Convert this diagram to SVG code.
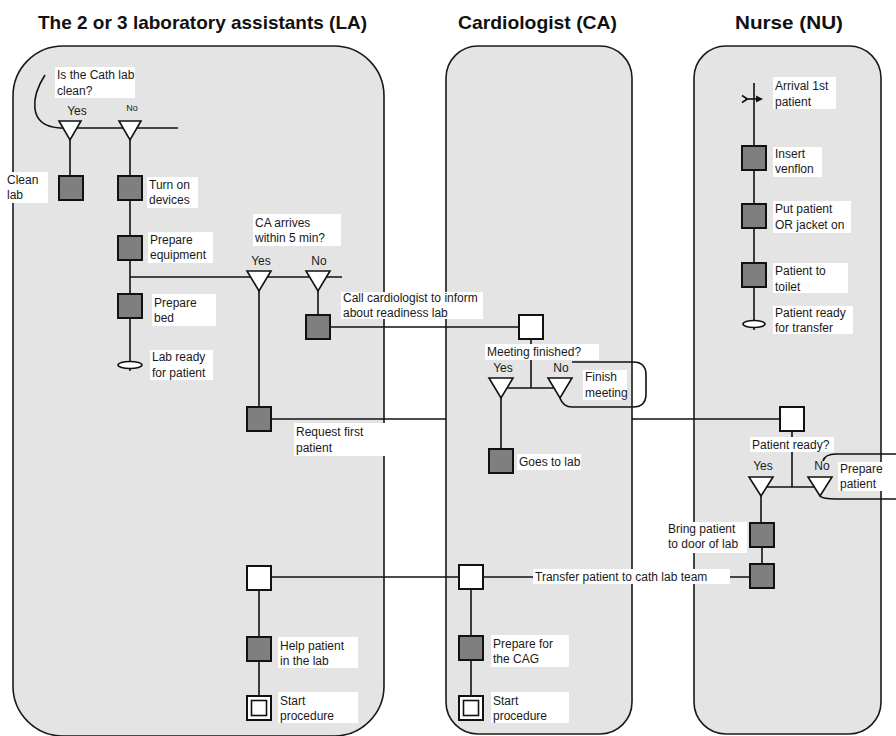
<svg xmlns="http://www.w3.org/2000/svg" width="896" height="736" viewBox="0 0 896 736">
  <defs>
    <style>
      .lane { fill: #e4e4e4; stroke: #1a1a1a; stroke-width: 1.6; }
      .head { font-family: "Liberation Sans", Arial, sans-serif; font-weight: bold; font-size: 19px; fill: #111; }
      .wire { fill: none; stroke: #111; stroke-width: 1.6; }
      .task { fill: #7f7f7f; stroke: #111; stroke-width: 2; }
      .gate { fill: #fff; stroke: #111; stroke-width: 2; }
      .dec { fill: #fff; stroke: #111; stroke-width: 1.6; stroke-linejoin: miter; }
      .end { fill: #fff; stroke: #111; stroke-width: 1.6; }
      .lbl { fill: #fff; }
      .t { font-family: "Liberation Sans", Arial, sans-serif; font-size: 12px; fill: #1a1a1a; }
      .yn { font-family: "Liberation Sans", Arial, sans-serif; font-size: 12px; fill: #1a1a1a; text-anchor: middle; }
    </style>
  </defs>

  <!-- swimlane headers -->
  <g id="headers">
    <text class="head" x="38" y="29" textLength="329" lengthAdjust="spacingAndGlyphs">The 2 or 3 laboratory assistants (LA)</text>
    <text class="head" x="458" y="29" textLength="159" lengthAdjust="spacingAndGlyphs">Cardiologist (CA)</text>
    <text class="head" x="735" y="29" textLength="108" lengthAdjust="spacingAndGlyphs">Nurse (NU)</text>
  </g>

  <!-- swimlanes -->
  <g id="lanes">
    <rect id="lane-la" class="lane" x="13" y="46" width="371" height="690" rx="50" ry="50"/>
    <rect id="lane-ca" class="lane" x="446" y="46" width="186" height="688" rx="32" ry="32"/>
    <rect id="lane-nu" class="lane" x="694" y="46" width="187" height="688" rx="32" ry="32"/>
  </g>

  <!-- connectors -->
  <g id="connectors" class="wire">
    <!-- LA: is the lab clean -->
    <path d="M45,75 C32,95 26,126 60,128 H178"/>
    <path d="M70,138 V176"/>
    <path d="M130,138 V371"/>
    <path d="M130,277 H342"/>
    <path d="M259,289 V407"/>
    <path d="M318,289 V315"/>
    <!-- call cardiologist -->
    <path d="M331,327 H519"/>
    <!-- request first patient (passes behind CA lane) -->
    <path d="M271,419 H446"/>
    <path d="M632,419 H780"/>
    <!-- CA: meeting finished -->
    <path d="M531,339 V388"/>
    <path d="M501,388 H560"/>
    <path d="M501,396 V449"/>
    <path d="M572,362 H633 Q646,362 646,375 V394 Q646,407 633,407 H572 Q563,407 560,398"/>
    <!-- NU: main line -->
    <path d="M754,83 V330"/>
    <path d="M745,99 H757"/>
    <path d="M742,95.5 L747.5,99 L742,102.5"/>
    <!-- NU: patient ready -->
    <path d="M792,431 V487"/>
    <path d="M761,487 H820"/>
    <path d="M761,494 V523"/>
    <path d="M762,547 V564"/>
    <path d="M823,461 Q825,454 836,454 H900"/>
    <path d="M820,496 Q823,499 836,499 H900"/>
    <!-- transfer to cath lab team -->
    <path d="M271,577 H458"/>
    <path d="M483,577 H750"/>
    <!-- bottom chains -->
    <path d="M259,590 V696"/>
    <path d="M471,589 V696"/>
  </g>
  <polygon points="756,95.5 763,99 756,102.5" fill="#111"/>

  <!-- LA nodes -->
  <g id="la-clean-yes"><polygon class="dec" points="59,121 81,121 70,140"/></g>
  <g id="la-clean-no"><polygon class="dec" points="119,121 141,121 130,140"/></g>
  <g id="la-clean-lab"><rect class="task" x="59" y="176" width="24" height="24"/></g>
  <g id="la-turn-on"><rect class="task" x="118" y="176" width="24" height="24"/></g>
  <g id="la-prep-equip"><rect class="task" x="118" y="236" width="24" height="24"/></g>
  <g id="la-prep-bed"><rect class="task" x="118" y="294" width="24" height="24"/></g>
  <g id="la-lab-ready"><ellipse class="end" cx="130" cy="365" rx="12" ry="3.5"/></g>
  <g id="la-ca-yes"><polygon class="dec" points="247,271 271,271 259,291"/></g>
  <g id="la-ca-no"><polygon class="dec" points="306,271 330,271 318,291"/></g>
  <g id="la-call-ca"><rect class="task" x="306" y="315" width="24" height="24"/></g>
  <g id="la-request"><rect class="task" x="247" y="407" width="24" height="24"/></g>
  <g id="la-sync"><rect class="gate" x="247" y="566" width="24" height="24"/></g>
  <g id="la-help"><rect class="task" x="247" y="637" width="24" height="24"/></g>
  <g id="la-start"><rect class="gate" x="247" y="696" width="24" height="24"/><rect class="end" x="251.5" y="700.5" width="15" height="15"/></g>

  <!-- CA nodes -->
  <g id="ca-call-in"><rect class="gate" x="519" y="315" width="24" height="24"/></g>
  <g id="ca-meet-yes"><polygon class="dec" points="489,378 513,378 501,398"/></g>
  <g id="ca-meet-no"><polygon class="dec" points="548,378 572,378 560,398"/></g>
  <g id="ca-goes"><rect class="task" x="489" y="449" width="24" height="24"/></g>
  <g id="ca-sync"><rect class="gate" x="459" y="565" width="24" height="24"/></g>
  <g id="ca-prep-cag"><rect class="task" x="459" y="636" width="24" height="24"/></g>
  <g id="ca-start"><rect class="gate" x="459" y="696" width="24" height="24"/><rect class="end" x="463.5" y="700.5" width="15" height="15"/></g>

  <!-- NU nodes -->
  <g id="nu-venflon"><rect class="task" x="742" y="146" width="24" height="24"/></g>
  <g id="nu-jacket"><rect class="task" x="742" y="204" width="24" height="24"/></g>
  <g id="nu-toilet"><rect class="task" x="742" y="263" width="24" height="24"/></g>
  <g id="nu-ready"><ellipse class="end" cx="754" cy="324" rx="11" ry="3.5"/></g>
  <g id="nu-check"><rect class="gate" x="780" y="407" width="24" height="24"/></g>
  <g id="nu-yes"><polygon class="dec" points="749,477 773,477 761,496"/></g>
  <g id="nu-no"><polygon class="dec" points="808,477 832,477 820,496"/></g>
  <g id="nu-bring"><rect class="task" x="750" y="523" width="24" height="24"/></g>
  <g id="nu-transfer"><rect class="task" x="750" y="564" width="24" height="24"/></g>

  <!-- yes / no branch labels -->
  <g id="branch-labels">
    <text class="yn" x="77" y="115">Yes</text>
    <text class="yn" x="132" y="111" style="font-size:9px">No</text>
    <text class="yn" x="261" y="265">Yes</text>
    <text class="yn" x="319" y="265">No</text>
    <text class="yn" x="503" y="372">Yes</text>
    <text class="yn" x="561" y="372">No</text>
    <text class="yn" x="763" y="470">Yes</text>
    <text class="yn" x="822" y="470">No</text>
  </g>

  <!-- text labels on white boxes -->
  <g id="labels">
    <rect class="lbl" x="55" y="67" width="80" height="31"/>
    <text class="t"><tspan x="57" y="79">Is the Cath lab</tspan><tspan x="57" y="95">clean?</tspan></text>

    <rect class="lbl" x="5" y="172" width="43" height="31"/>
    <text class="t"><tspan x="7" y="184">Clean</tspan><tspan x="7" y="199">lab</tspan></text>

    <rect class="lbl" x="147" y="177" width="51" height="31"/>
    <text class="t"><tspan x="149" y="189">Turn on</tspan><tspan x="149" y="204">devices</tspan></text>

    <rect class="lbl" x="148" y="232" width="65" height="31"/>
    <text class="t"><tspan x="150" y="244">Prepare</tspan><tspan x="150" y="259">equipment</tspan></text>

    <rect class="lbl" x="152" y="294" width="64" height="32"/>
    <text class="t"><tspan x="154" y="307">Prepare</tspan><tspan x="154" y="322">bed</tspan></text>

    <rect class="lbl" x="150" y="350" width="63" height="30"/>
    <text class="t"><tspan x="152" y="361">Lab ready</tspan><tspan x="152" y="377">for patient</tspan></text>

    <rect class="lbl" x="253" y="214" width="88" height="32"/>
    <text class="t"><tspan x="255" y="227">CA arrives</tspan><tspan x="255" y="242">within 5 min?</tspan></text>

    <rect class="lbl" x="341" y="292" width="142" height="27"/>
    <text class="t"><tspan x="343" y="302">Call cardiologist to inform</tspan><tspan x="343" y="317">about readiness lab</tspan></text>

    <rect class="lbl" x="294" y="423" width="91" height="33"/>
    <text class="t"><tspan x="296" y="436">Request first</tspan><tspan x="296" y="452">patient</tspan></text>

    <rect class="lbl" x="485" y="344" width="114" height="16"/>
    <text class="t" x="487" y="356">Meeting finished?</text>

    <rect class="lbl" x="583" y="370" width="44" height="30"/>
    <text class="t"><tspan x="585" y="381">Finish</tspan><tspan x="585" y="397">meeting</tspan></text>

    <rect class="lbl" x="517" y="454" width="64" height="16"/>
    <text class="t" x="519" y="466">Goes to lab</text>

    <rect class="lbl" x="491" y="635" width="78" height="32"/>
    <text class="t"><tspan x="493" y="648">Prepare for</tspan><tspan x="493" y="663">the CAG</tspan></text>

    <rect class="lbl" x="491" y="692" width="78" height="31"/>
    <text class="t"><tspan x="493" y="705">Start</tspan><tspan x="493" y="720">procedure</tspan></text>

    <rect class="lbl" x="278" y="637" width="80" height="31"/>
    <text class="t"><tspan x="280" y="650">Help patient</tspan><tspan x="280" y="665">in the lab</tspan></text>

    <rect class="lbl" x="278" y="692" width="80" height="31"/>
    <text class="t"><tspan x="280" y="705">Start</tspan><tspan x="280" y="720">procedure</tspan></text>

    <rect class="lbl" x="533" y="569" width="197" height="15"/>
    <text class="t" x="535" y="581">Transfer patient to cath lab team</text>

    <rect class="lbl" x="773" y="77" width="63" height="32"/>
    <text class="t"><tspan x="775" y="90">Arrival 1st</tspan><tspan x="775" y="106">patient</tspan></text>

    <rect class="lbl" x="773" y="147" width="49" height="30"/>
    <text class="t"><tspan x="775" y="158">Insert</tspan><tspan x="775" y="173">venflon</tspan></text>

    <rect class="lbl" x="773" y="201" width="78" height="32"/>
    <text class="t"><tspan x="775" y="213">Put patient</tspan><tspan x="775" y="229">OR jacket on</tspan></text>

    <rect class="lbl" x="773" y="263" width="75" height="30"/>
    <text class="t"><tspan x="775" y="275">Patient to</tspan><tspan x="775" y="291">toilet</tspan></text>

    <rect class="lbl" x="773" y="306" width="80" height="28"/>
    <text class="t"><tspan x="775" y="317">Patient ready</tspan><tspan x="775" y="332">for transfer</tspan></text>

    <rect class="lbl" x="750" y="437" width="84" height="15"/>
    <text class="t" x="752" y="449">Patient ready?</text>

    <rect class="lbl" x="838" y="462" width="48" height="29"/>
    <text class="t"><tspan x="840" y="473">Prepare</tspan><tspan x="840" y="488">patient</tspan></text>

    <rect class="lbl" x="666" y="522" width="81" height="31"/>
    <text class="t"><tspan x="668" y="533">Bring patient</tspan><tspan x="668" y="548">to door of lab</tspan></text>
  </g>
</svg>
